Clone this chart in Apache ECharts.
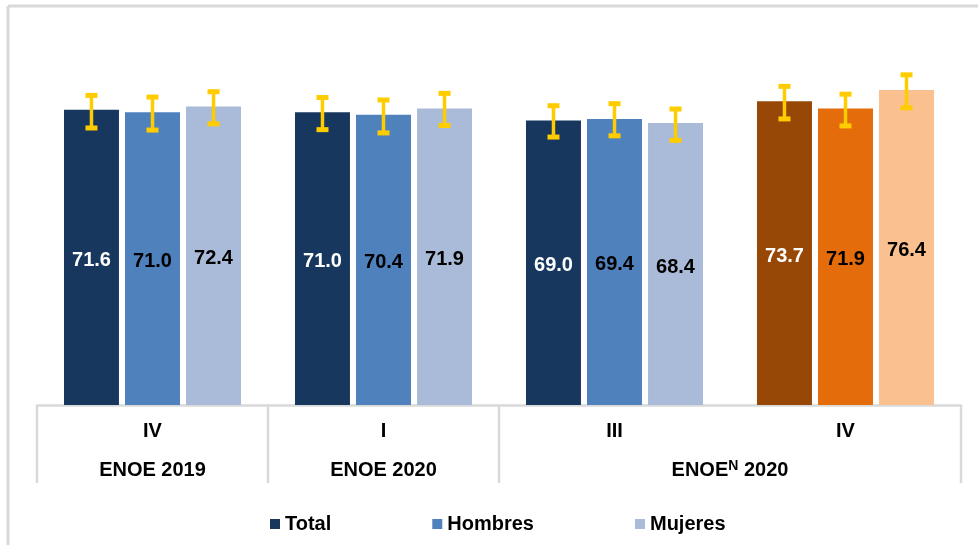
<!DOCTYPE html>
<html>
<head>
<meta charset="utf-8">
<script src="https://cdn.jsdelivr.net/npm/echarts@6/dist/echarts.min.js"></script>
<style>
html,body{margin:0;padding:0;background:#fff;}
#main{width:978px;height:545px;}
</style>
</head>
<body>
<div id="main"></div>
<script>
// ---- data ----
const categories = ['IV', 'I', 'III', 'IV'];
const groupLabels = ['ENOE 2019', 'ENOE 2020', 'ENOE^N 2020'];
const groupSpans = [1, 1, 2];
const seriesNames = ['Total', 'Hombres', 'Mujeres'];
const total = [71.6, 71.0, 69.0, 73.7];
const hombres = [71.0, 70.4, 69.4, 71.9];
const mujeres = [72.4, 71.9, 68.4, 76.4];
const totalLow = [67.2, 66.8, 65.0, 69.4];
const totalHigh = [75.1, 74.6, 72.6, 77.3];
const hombresLow = [66.7, 66.0, 65.3, 67.7];
const hombresHigh = [74.7, 74.0, 73.1, 75.4];
const mujeresLow = [68.2, 67.8, 64.2, 72.1];
const mujeresHigh = [76.0, 75.6, 71.8, 80.1];

// ---- styles ----
const FONT = 'Liberation Sans, Arial, Helvetica, sans-serif';
const blueColors = ['#17375E', '#4F81BD', '#A9BBD9'];
const orangeColors = ['#974706', '#E46C0A', '#FAC090'];
const labelColors = ['#ffffff', '#000000', '#000000'];
const ERR = '#FFCC00';
const GRAY = '#D9D9D9';
const BAR_W = 0.238;
const BAR_GAP = 0.11;

const values = [total, hombres, mujeres];
const lows = [totalLow, hombresLow, mujeresLow];
const highs = [totalHigh, hombresHigh, mujeresHigh];

const chart = echarts.init(document.getElementById('main'), null, {renderer: 'canvas'});

const series = [];
seriesNames.forEach((name, s) => {
  series.push({
    name: name,
    type: 'bar',
    barWidth: (BAR_W * 100) + '%',
    barGap: (BAR_GAP * 100) + '%',
    itemStyle: {color: blueColors[s]},
    data: values[s].map((v, i) => ({
      value: v,
      itemStyle: {color: i === 3 ? orangeColors[s] : blueColors[s]}
    })),
    label: {
      show: true,
      position: 'inside',
      offset: [0, 3],
      formatter: p => p.value.toFixed(1),
      color: labelColors[s],
      fontFamily: FONT,
      fontSize: 20,
      fontWeight: 'bold'
    },
    z: 2
  });
});
seriesNames.forEach((name, s) => {
  const k = s - 1;
  series.push({
    type: 'custom',
    name: name + ' err',
    z: 5,
    silent: true,
    encode: {x: 0, y: [1, 2]},
    data: categories.map((c, i) => [i, lows[s][i], highs[s][i]]),
    renderItem: function (params, api) {
      const ci = api.value(0);
      const lo = api.coord([ci, api.value(1)]);
      const hi = api.coord([ci, api.value(2)]);
      const bw = api.size([1, 0])[0];
      const off = k * bw * BAR_W * (1 + BAR_GAP);
      const x = lo[0] + off;
      const capW = 12, capH = 5;
      return {
        type: 'group',
        children: [
          {type: 'line', shape: {x1: x, y1: hi[1], x2: x, y2: lo[1]},
           style: {stroke: ERR, lineWidth: 3.5}},
          {type: 'rect', shape: {x: x - capW / 2, y: hi[1] - capH / 2, width: capW, height: capH},
           style: {fill: ERR}},
          {type: 'rect', shape: {x: x - capW / 2, y: lo[1] - capH / 2, width: capW, height: capH},
           style: {fill: ERR}}
        ]
      };
    }
  });
});

chart.setOption({
  animation: false,
  backgroundColor: '#ffffff',
  grid: {left: 37, right: 17, top: 34, bottom: 140, containLabel: false},
  legend: {
    data: seriesNames,
    left: 265,
    top: 509,
    icon: 'rect',
    itemWidth: 10,
    itemHeight: 10,
    itemGap: 101,
    textStyle: {fontFamily: FONT, fontSize: 20, fontWeight: 'bold', color: '#000'}
  },
  xAxis: {
    type: 'category',
    data: categories,
    axisLine: {show: true, lineStyle: {color: GRAY, width: 2.5}},
    axisTick: {show: false},
    axisLabel: {
      margin: 16,
      fontFamily: FONT, fontSize: 20, fontWeight: 'bold', color: '#000'
    }
  },
  yAxis: {
    type: 'value', min: 0, max: 90, show: false,
    splitLine: {show: false}
  },
  series: series
});

// ---- category table (dividers + outer labels), positioned from axis scale ----
function buildTable() {
  const cx = i => chart.convertToPixel({xAxisIndex: 0}, i);
  const y0 = chart.convertToPixel({yAxisIndex: 0}, 0);
  const bw = cx(1) - cx(0);
  const left = i => cx(i) - bw / 2;
  const graphics = [];
  // frame
  graphics.push({type: 'line', shape: {x1: 8, y1: 6, x2: 978, y2: 6}, style: {stroke: GRAY, lineWidth: 3}});
  graphics.push({type: 'line', shape: {x1: 8, y1: 6, x2: 8, y2: 545}, style: {stroke: GRAY, lineWidth: 3}});
  let idx = 0;
  const bounds = [left(0)];
  groupSpans.forEach((span, g) => {
    const start = idx;
    idx += span;
    bounds.push(left(start) + span * bw);
    const center = left(start) + span * bw / 2;
    const txt = groupLabels[g];
    let text;
    if (txt.indexOf('^') >= 0) {
      const parts = txt.split('^');
      const sup = parts[1].split(' ')[0];
      const rest = parts[1].slice(sup.length);
      text = '{a|' + parts[0] + '}{s|' + sup + '}{a|' + rest + '}';
    } else {
      text = '{a|' + txt + '}';
    }
    graphics.push({
      type: 'text',
      x: center, y: y0 + 65,
      style: {
        text: text,
        align: 'center', verticalAlign: 'middle',
        rich: {
          a: {fontFamily: FONT, fontSize: 20, fontWeight: 'bold', fill: '#000', lineHeight: 22},
          s: {fontFamily: FONT, fontSize: 14, fontWeight: 'bold', fill: '#000', lineHeight: 22, verticalAlign: 'top', padding: [0, 0, 8, 0]}
        }
      }
    });
  });
  bounds.forEach(x => {
    graphics.push({type: 'line', shape: {x1: x, y1: y0, x2: x, y2: y0 + 78}, style: {stroke: GRAY, lineWidth: 2.5}});
  });
  chart.setOption({graphic: graphics});
}
buildTable();
</script>
</body>
</html>
